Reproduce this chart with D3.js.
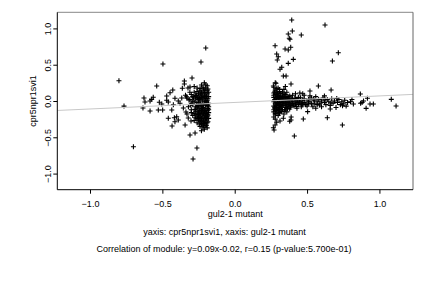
<!DOCTYPE html>
<html>
<head>
<meta charset="utf-8">
<script src="https://cdn.jsdelivr.net/npm/d3@7"></script>
<style>
  body { margin: 0; background: #fff; }
  text { font-family: "Liberation Sans", Arial, Helvetica, sans-serif; }
</style>
</head>
<body>
<div id="chart"></div>
<script>
// points: [x, y]
const leftSparse = [
  [-0.80, 0.28], [-0.765, -0.07], [-0.70, -0.63], [-0.496, 0.51], [-0.20, 0.73], [-0.233, 0.537],
  [-0.627, 0.041], [-0.620, -0.014], [-0.634, -0.096], [-0.585, -0.138], [-0.585, 0.0], [-0.574, 0.023],
  [-0.563, 0.051], [-0.539, 0.207], [-0.521, -0.018], [-0.504, -0.041], [-0.528, -0.124], [-0.498, -0.124],
  [-0.470, 0.010], [-0.459, -0.014], [-0.459, -0.238], [-0.470, 0.069], [-0.447, 0.114], [-0.428, 0.152],
  [-0.435, -0.124], [-0.433, -0.344], [-0.424, -0.051], [-0.413, 0.037], [-0.417, -0.230], [-0.401, -0.216],
  [-0.390, -0.262], [-0.413, -0.285], [-0.390, 0.0], [-0.378, -0.032], [-0.366, 0.041], [-0.362, 0.175],
  [-0.348, 0.275], [-0.348, 0.234], [-0.343, -0.331], [-0.355, -0.096], [-0.332, 0.059], [-0.337, -0.152],
  [-0.323, 0.179], [-0.309, 0.193], [-0.295, 0.317], [-0.316, 0.014], [-0.304, -0.055], [-0.321, -0.234],
  [-0.302, -0.275], [-0.309, -0.468], [-0.274, -0.441], [-0.261, -0.647], [-0.288, -0.799]
];

const leftDense = [
  [-0.19, 0.21], [-0.20, 0.18], [-0.19, 0.15], [-0.21, 0.14], [-0.22, 0.19], [-0.24, 0.17], [-0.23, 0.12],
  [-0.25, 0.10], [-0.26, 0.13], [-0.28, 0.12], [-0.27, 0.08], [-0.29, 0.06], [-0.30, 0.09], [-0.24, 0.07],
  [-0.21, 0.08], [-0.19, 0.10], [-0.18, 0.06], [-0.20, 0.04], [-0.22, 0.03], [-0.23, 0.05], [-0.25, 0.02],
  [-0.27, 0.03], [-0.28, -0.01], [-0.26, -0.02], [-0.24, 0.00], [-0.21, -0.01], [-0.19, 0.01], [-0.18, -0.03],
  [-0.20, -0.05], [-0.22, -0.04], [-0.23, -0.07], [-0.25, -0.06], [-0.27, -0.08], [-0.29, -0.05], [-0.30, -0.03],
  [-0.26, -0.10], [-0.24, -0.11], [-0.22, -0.09], [-0.20, -0.10], [-0.18, -0.08], [-0.19, -0.13], [-0.21, -0.14],
  [-0.23, -0.13], [-0.25, -0.15], [-0.27, -0.14], [-0.28, -0.17], [-0.26, -0.18], [-0.24, -0.17], [-0.22, -0.19],
  [-0.20, -0.17], [-0.18, -0.16], [-0.19, -0.21], [-0.21, -0.22], [-0.23, -0.24], [-0.25, -0.21], [-0.27, -0.23],
  [-0.24, -0.27], [-0.22, -0.28], [-0.20, -0.26], [-0.18, -0.24], [-0.19, -0.30], [-0.21, -0.31], [-0.23, -0.32],
  [-0.20, -0.34], [-0.22, -0.36], [-0.24, -0.35], [-0.21, -0.39], [-0.23, -0.41], [-0.19, -0.37], [-0.26, -0.30],
  [-0.28, -0.27], [-0.29, -0.20], [-0.30, -0.12], [-0.31, 0.02], [-0.32, -0.08], [-0.33, 0.04], [-0.31, 0.12],
  [-0.33, -0.18], [-0.34, 0.08], [-0.18, 0.12], [-0.20, 0.22], [-0.21, 0.25], [-0.23, 0.22], [-0.26, 0.18],
  [-0.28, 0.20], [-0.19, -0.06], [-0.21, 0.06], [-0.22, -0.12], [-0.24, -0.03], [-0.26, 0.05], [-0.18, -0.12],
  [-0.19, -0.19], [-0.20, -0.23], [-0.20, 0.00], [-0.22, 0.10], [-0.24, 0.14], [-0.25, -0.26], [-0.26, -0.24],
  [-0.29, 0.00], [-0.30, -0.16],
  [-0.185, 0.03], [-0.195, -0.015], [-0.205, 0.065], [-0.215, -0.065], [-0.225, 0.015], [-0.235, -0.045],
  [-0.245, 0.035], [-0.255, -0.085], [-0.265, 0.075], [-0.275, -0.115], [-0.185, -0.105], [-0.195, -0.155],
  [-0.205, -0.135], [-0.215, -0.175], [-0.225, -0.155], [-0.235, -0.195], [-0.245, -0.225], [-0.255, -0.185],
  [-0.185, -0.195], [-0.195, -0.245], [-0.205, -0.295], [-0.215, -0.265], [-0.225, -0.235], [-0.235, -0.285],
  [-0.185, -0.285], [-0.195, -0.335], [-0.215, -0.345], [-0.225, -0.315], [-0.245, -0.315], [-0.185, -0.055],
  [-0.205, 0.115], [-0.215, 0.165], [-0.235, 0.095], [-0.185, 0.165], [-0.255, 0.055], [-0.265, -0.045],
  [-0.275, -0.195], [-0.285, 0.045], [-0.225, -0.105], [-0.245, -0.135], [-0.205, -0.205], [-0.195, 0.065]
];

const rightSparse = [
  [0.394, 1.116], [0.624, 1.047], [0.370, 0.923], [0.398, 0.964], [0.377, 0.864], [0.382, 0.850], [0.460, 0.909],
  [0.279, 0.762], [0.348, 0.716], [0.370, 0.702], [0.387, 0.740], [0.290, 0.647], [0.301, 0.610], [0.294, 0.565],
  [0.405, 0.574], [0.370, 0.519], [0.325, 0.464], [0.313, 0.437], [0.336, 0.344], [0.355, 0.344], [0.389, 0.234],
  [0.285, 0.244], [0.267, 0.207], [0.716, 0.665], [0.675, 0.551],
  [0.29, 0.17], [0.31, 0.13], [0.28, 0.15], [0.34, 0.16], [0.36, 0.12], [0.35, 0.09], [0.30, 0.10], [0.27, 0.11],
  [0.578, 0.207], [0.666, 0.152], [0.520, 0.138], [0.45, 0.11], [0.868, 0.096], [0.917, 0.037], [1.082, 0.023],
  [1.115, -0.069], [0.640, -0.230], [0.744, -0.331], [0.412, -0.482], [0.474, -0.248], [0.504, -0.147],
  [0.389, -0.262], [0.267, -0.368], [0.279, -0.331], [0.290, -0.293], [0.272, -0.399], [0.313, -0.275],
  [0.336, -0.238], [0.38, -0.28], [0.39, -0.22], [0.27, -0.22], [0.28, -0.17], [0.27, -0.12], [0.29, -0.09],
  [0.935, -0.041], [0.958, -0.041], [0.908, -0.101], [0.88, -0.02], [0.87, -0.03], [0.89, 0.00],
  [0.820, -0.041], [0.81, 0.02], [0.80, -0.01]
];

const rightDense = [
  [0.27, 0.05], [0.28, 0.02], [0.27, -0.01], [0.28, -0.04], [0.27, -0.07], [0.29, 0.04], [0.29, -0.02],
  [0.29, -0.06], [0.30, 0.01], [0.30, -0.03], [0.30, -0.08], [0.31, 0.05], [0.31, 0.00], [0.31, -0.05],
  [0.31, -0.10], [0.32, 0.03], [0.32, -0.02], [0.32, -0.07], [0.33, 0.01], [0.33, -0.04], [0.33, -0.12],
  [0.34, 0.04], [0.34, -0.01], [0.34, -0.06], [0.35, 0.02], [0.35, -0.03], [0.35, -0.09], [0.36, 0.00],
  [0.36, -0.05], [0.37, 0.03], [0.37, -0.02], [0.37, -0.07], [0.38, 0.01], [0.38, -0.04], [0.39, 0.04],
  [0.39, -0.01], [0.39, -0.06], [0.40, 0.02], [0.40, -0.03], [0.41, -0.01], [0.41, -0.07], [0.42, 0.03],
  [0.42, -0.04], [0.43, 0.00], [0.43, -0.02], [0.44, 0.05], [0.44, -0.05], [0.45, -0.01], [0.45, 0.02],
  [0.46, -0.03], [0.46, -0.08], [0.47, 0.01], [0.47, -0.04], [0.48, 0.03], [0.48, -0.02], [0.49, -0.05],
  [0.50, 0.00], [0.50, -0.07], [0.51, 0.02], [0.51, -0.03], [0.52, -0.01], [0.53, 0.04], [0.53, -0.04],
  [0.54, -0.08], [0.55, 0.01], [0.55, -0.03], [0.56, 0.06], [0.57, -0.01], [0.57, -0.05], [0.58, 0.02],
  [0.59, -0.03], [0.60, 0.00], [0.60, -0.08], [0.61, 0.04], [0.62, -0.02], [0.63, -0.05], [0.64, 0.02],
  [0.65, -0.01], [0.66, -0.06], [0.67, 0.03], [0.68, -0.03], [0.69, 0.00], [0.70, -0.09], [0.71, -0.02],
  [0.72, 0.02], [0.73, -0.05], [0.74, -0.01], [0.75, -0.04], [0.76, 0.01], [0.77, -0.07], [0.78, -0.02],
  [0.62, 0.07], [0.52, 0.07], [0.48, 0.08], [0.40, 0.08], [0.43, -0.10], [0.38, -0.11], [0.56, -0.10],
  [0.66, -0.11],
  [0.27, 0.08], [0.28, 0.09], [0.28, -0.10], [0.29, -0.14], [0.30, 0.07], [0.30, -0.13], [0.31, -0.16],
  [0.32, 0.08], [0.32, -0.12], [0.33, 0.06], [0.27, -0.15], [0.28, -0.19], [0.29, 0.12], [0.31, 0.16],
  [0.33, 0.12], [0.34, 0.10], [0.35, 0.20], [0.30, 0.18], [0.27, 0.19], [0.28, 0.25], [0.28, -0.25],
  [0.30, -0.20], [0.36, -0.15], [0.35, -0.12], [0.34, -0.18], [0.37, 0.06], [0.36, 0.05], [0.38, 0.07],
  [0.42, 0.10], [0.47, 0.10],
  [0.275, 0.015], [0.285, -0.055], [0.295, 0.065], [0.305, -0.115], [0.315, 0.025], [0.325, -0.085],
  [0.335, 0.045], [0.345, -0.125], [0.355, -0.015], [0.365, 0.025], [0.375, -0.045], [0.385, -0.085],
  [0.275, -0.095], [0.285, 0.055], [0.295, -0.035], [0.305, 0.035], [0.315, -0.065], [0.325, 0.005],
  [0.335, -0.025], [0.345, 0.065], [0.355, -0.065], [0.365, -0.105], [0.395, 0.015], [0.405, -0.055],
  [0.415, 0.035], [0.425, -0.075], [0.435, 0.015], [0.445, -0.025], [0.455, 0.045], [0.465, -0.055],
  [0.275, 0.125], [0.285, -0.135], [0.295, 0.095], [0.305, -0.175], [0.315, 0.105], [0.325, -0.145],
  [0.545, 0.025], [0.585, -0.055], [0.625, 0.015], [0.665, -0.025], [0.705, 0.035], [0.745, -0.065]
];

const xTicks = [-1.0, -0.5, 0.0, 0.5, 1.0];
const yTicks = [-1.0, -0.5, 0.0, 0.5, 1.0];
const fitSlope = 0.09;
const fitIntercept = -0.02;
const xLabel = "gul2-1 mutant";
const yLabel = "cpr5npr1svi1";
const subLine1 = "yaxis: cpr5npr1svi1, xaxis: gul2-1 mutant";
const subLine2 = "Correlation of module: y=0.09x-0.02, r=0.15 (p-value:5.700e-01)";

const W = 432, H = 288;
const plot = { left: 57.3, right: 413, top: 12.3, bottom: 189.7 };

const x = d3.scaleLinear().domain([-1.226, 1.232]).range([plot.left, plot.right]);
const y = d3.scaleLinear().domain([-1.222, 1.222]).range([plot.bottom, plot.top]);

const svg = d3.select("#chart")
  .append("svg")
    .attr("width", W)
    .attr("height", H);

svg.append("defs").append("clipPath").attr("id", "clip")
  .append("rect")
    .attr("x", plot.left).attr("y", plot.top)
    .attr("width", plot.right - plot.left).attr("height", plot.bottom - plot.top);

// points drawn as "+"
const points = leftSparse.concat(leftDense, rightSparse, rightDense);
const g = svg.append("g").attr("clip-path", "url(#clip)");
g.selectAll("path.pt")
  .data(points)
  .enter().append("path")
    .attr("class", "pt")
    .attr("d", d => `M${x(d[0]) - 2.5},${y(d[1])}h5M${x(d[0])},${y(d[1]) - 2.5}v5`)
    .attr("stroke", "#000")
    .attr("stroke-width", 1.1)
    .attr("fill", "none");

// fitted line
const xd = x.domain();
g.append("line")
  .attr("x1", x(xd[0])).attr("y1", y(fitSlope * xd[0] + fitIntercept))
  .attr("x2", x(xd[1])).attr("y2", y(fitSlope * xd[1] + fitIntercept))
  .attr("stroke", "#c8c8c8")
  .attr("stroke-width", 1);

// box
svg.append("line").attr("x1", plot.left).attr("x2", plot.right).attr("y1", plot.top).attr("y2", plot.top)
  .attr("stroke", "#888");
svg.append("line").attr("x1", plot.right).attr("x2", plot.right).attr("y1", plot.top).attr("y2", plot.bottom)
  .attr("stroke", "#666");
svg.append("line").attr("x1", plot.left).attr("x2", plot.left).attr("y1", plot.top).attr("y2", plot.bottom)
  .attr("stroke", "#000");
svg.append("line").attr("x1", plot.left).attr("x2", plot.right).attr("y1", plot.bottom).attr("y2", plot.bottom)
  .attr("stroke", "#000");

// x axis
const xAxis = svg.append("g")
  .attr("transform", `translate(0,${plot.bottom})`)
  .call(d3.axisBottom(x).tickValues(xTicks).tickFormat(d3.format(".1f")).tickSize(4).tickPadding(5));
xAxis.select(".domain").remove();
xAxis.selectAll("text").attr("font-size", 9).attr("fill", "#000")
  .attr("font-family", "'Liberation Sans', Arial, sans-serif")
  .attr("y", null).attr("dy", null).attr("transform", "translate(0,17.6)");

// y axis
const yAxis = svg.append("g")
  .attr("transform", `translate(${plot.left},0)`)
  .call(d3.axisLeft(y).tickValues(yTicks).tickFormat(d3.format(".1f")).tickSize(4));
yAxis.select(".domain").remove();
yAxis.selectAll("text")
  .attr("font-size", 9).attr("fill", "#000")
  .attr("font-family", "'Liberation Sans', Arial, sans-serif")
  .attr("x", null).attr("dy", null)
  .attr("text-anchor", "middle")
  .attr("transform", "translate(-6.3,0) rotate(-90)");

// titles
svg.append("text")
  .attr("x", (plot.left + plot.right) / 2).attr("y", 217)
  .attr("text-anchor", "middle").attr("font-size", 9)
  .text(xLabel);

svg.append("text")
  .attr("transform", `translate(36,${(plot.top + plot.bottom) / 2}) rotate(-90)`)
  .attr("text-anchor", "middle").attr("font-size", 9)
  .text(yLabel);

svg.append("text")
  .attr("x", 224.5).attr("y", 234.5)
  .attr("text-anchor", "middle").attr("font-size", 9)
  .text(subLine1);

svg.append("text")
  .attr("x", 224).attr("y", 251.5)
  .attr("text-anchor", "middle").attr("font-size", 9)
  .text(subLine2);
</script>
</body>
</html>
